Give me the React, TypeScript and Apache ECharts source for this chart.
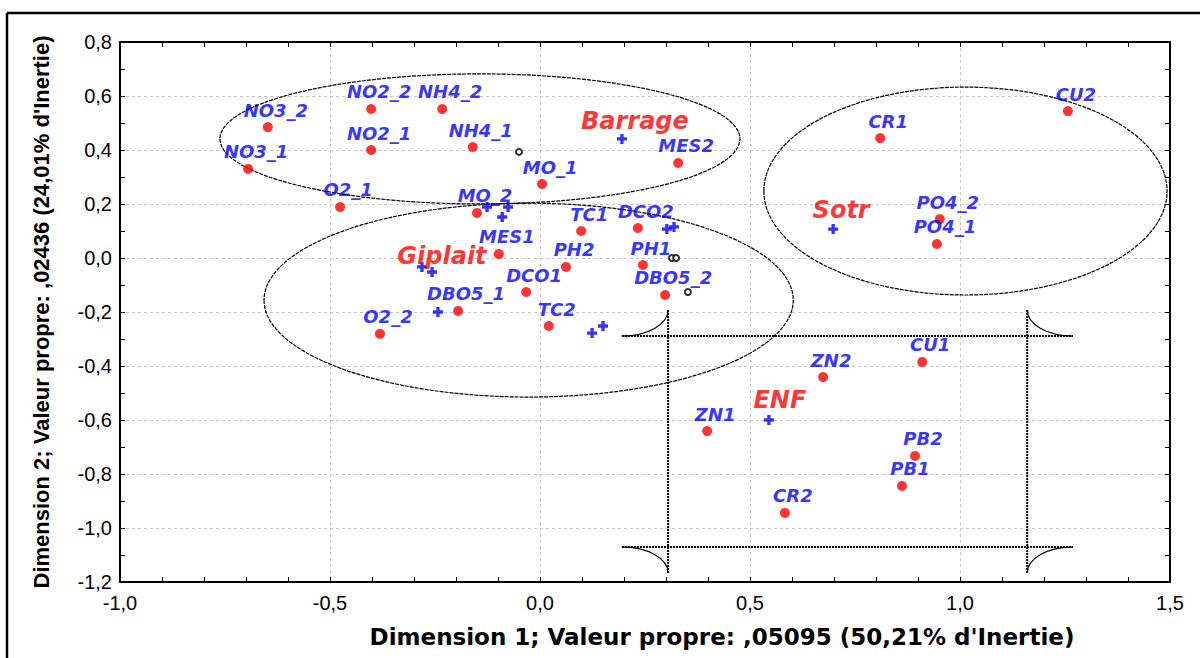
import React, { useEffect, useRef } from 'react';
import * as echarts from 'echarts';

// Variables (red points)
const variableNames = ['NO3_2', 'NO3_1', 'NO2_2', 'NO2_1', 'NH4_2', 'NH4_1', 'MO_1', 'O2_1', 'MO_2', 'MES1', 'TC1', 'DCO2', 'PH2', 'PH1', 'DCO1', 'DBO5_2', 'DBO5_1', 'TC2', 'O2_2', 'MES2', 'CR1', 'CU2', 'PO4_2', 'PO4_1', 'CU1', 'ZN2', 'ZN1', 'PB2', 'PB1', 'CR2'];
const variableX = [-0.648, -0.695, -0.402, -0.402, -0.233, -0.160, 0.005, -0.476, -0.150, -0.098, 0.098, 0.233, 0.062, 0.245, -0.033, 0.298, -0.195, 0.021, -0.381, 0.329, 0.810, 1.257, 0.952, 0.945, 0.910, 0.674, 0.398, 0.893, 0.862, 0.583];
const variableY = [0.485, 0.330, 0.552, 0.400, 0.552, 0.411, 0.274, 0.189, 0.167, 0.015, 0.100, 0.111, -0.033, -0.026, -0.126, -0.137, -0.196, -0.252, -0.281, 0.352, 0.444, 0.544, 0.144, 0.052, -0.385, -0.441, -0.641, -0.733, -0.844, -0.944];

// Named sites (blue crosses with red names)
const siteNames = ['Barrage', 'Sotr', 'ENF', 'Giplait'];
const siteX = [0.195, 0.698, 0.545, -0.281];
const siteY = [0.441, 0.107, -0.600, -0.033];
const siteLabelDx = [13, 8, 11, 20];
const siteLabelDy = [-18, -19, -20, -11];

// Unlabelled observations (blue crosses)
const obsX = [-0.257, -0.126, -0.076, -0.090, 0.302, 0.319, -0.243, 0.124, 0.150];
const obsY = [-0.052, 0.189, 0.189, 0.152, 0.107, 0.115, -0.200, -0.278, -0.252];

// Small open circles
const centreX = [-0.050, 0.314, 0.324, 0.352];
const centreY = [0.393, 0.000, 0.000, -0.126];

// Group ellipses (data units)
const ellipseCX = [-0.143, -0.027, 1.013];
const ellipseCY = [0.441, -0.156, 0.248];
const ellipseRX = [0.619, 0.630, 0.480];
const ellipseRY = [0.241, 0.359, 0.385];

// ENF bracket frame (data units): outer-left, inner-left, inner-right, outer-right
const bracketX = [0.195, 0.305, 1.160, 1.269];
// outer-top, inner-top, inner-bottom, outer-bottom
const bracketY = [-0.193, -0.289, -1.070, -1.167];

const X_TITLE = "Dimension 1; Valeur propre: ,05095 (50,21% d'Inertie)";
const Y_TITLE = "Dimension 2; Valeur propre: ,02436 (24,01% d'Inertie)";

const fmt = (v: number) => (Math.abs(v) < 1e-9 ? 0 : v).toFixed(1).replace('.', ',');

const CROSS = 'path://M4,0H8V4H12V8H8V12H4V8H0V4H4Z';

export default function App() {
  const ref = useRef<HTMLDivElement>(null);

  useEffect(() => {
    if (!ref.current) return;
    const chart = echarts.init(ref.current, null, { renderer: 'svg' });

    const axisCommon = {
      type: 'value' as const,
      axisLine: { onZero: false, lineStyle: { color: '#000', width: 2 } },
      axisTick: { inside: true, length: 5, lineStyle: { color: '#000', width: 1 } },
      minorTick: { show: true, length: 5, lineStyle: { color: '#000', width: 1 } },
    };

    const gridLine = { show: true, lineStyle: { color: '#c4c4c4', width: 1, type: [3, 3] as any } };

    const labelFont = { fontFamily: 'Liberation Sans, Arial, sans-serif', fontSize: 20, color: '#000' };

    const ellipseData = ellipseCX.map((c, i) => [c, ellipseCY[i], ellipseRX[i], ellipseRY[i]]);

    const option: any = {
      animation: false,
      backgroundColor: '#fff',
      grid: { left: 120, right: 30, top: 42, bottom: 76 },
      xAxis: [
        {
          ...axisCommon,
          position: 'bottom',
          min: -1,
          max: 1.5,
          interval: 0.5,
          minorTick: { ...axisCommon.minorTick, splitNumber: 5 },
          splitLine: gridLine,
          axisLabel: { ...labelFont, margin: 11, formatter: fmt },
          name: X_TITLE,
          nameLocation: 'middle',
          nameGap: 43,
          nameTextStyle: {
            fontFamily: 'DejaVu Sans, sans-serif',
            fontWeight: 'bold',
            fontSize: 23,
            color: '#000',
            padding: [0, 0, 0, 154],
          },
        },
        {
          ...axisCommon,
          position: 'top',
          min: -1,
          max: 1.5,
          interval: 0.5,
          minorTick: { ...axisCommon.minorTick, splitNumber: 5 },
          splitLine: { show: false },
          axisLabel: { show: false },
        },
      ],
      yAxis: [
        {
          ...axisCommon,
          position: 'left',
          min: -1.2,
          max: 0.8,
          interval: 0.2,
          minorTick: { ...axisCommon.minorTick, splitNumber: 2 },
          splitLine: gridLine,
          axisLabel: { ...labelFont, margin: 8, formatter: fmt },
          name: Y_TITLE,
          nameLocation: 'middle',
          nameGap: 68,
          nameTextStyle: {
            fontFamily: 'Liberation Sans, Arial, sans-serif',
            fontWeight: 'bold',
            fontSize: 22,
            color: '#000',
          },
        },
        {
          ...axisCommon,
          position: 'right',
          min: -1.2,
          max: 0.8,
          interval: 0.2,
          minorTick: { ...axisCommon.minorTick, splitNumber: 2 },
          splitLine: { show: false },
          axisLabel: { show: false },
        },
      ],
      graphic: [
        { type: 'line', shape: { x1: 7, y1: 13, x2: 1200, y2: 13 }, style: { stroke: '#000', lineWidth: 2.5 }, silent: true },
        { type: 'line', shape: { x1: 7, y1: 13, x2: 7, y2: 658 }, style: { stroke: '#000', lineWidth: 2.5 }, silent: true },
      ],
      series: [
        {
          type: 'custom',
          name: 'ellipses',
          xAxisIndex: 0,
          yAxisIndex: 0,
          silent: true,
          z: 1,
          data: ellipseData,
          encode: { x: 0, y: 1 },
          renderItem: (params: any, api: any) => {
            const c = api.coord([api.value(0), api.value(1)]);
            const s = api.size([api.value(2), api.value(3)]);
            const cx = c[0], cy = c[1], rx = s[0], ry = s[1];
            const d = `M${cx - rx},${cy} A${rx},${ry} 0 1,0 ${cx + rx},${cy} A${rx},${ry} 0 1,0 ${cx - rx},${cy} Z`;
            return {
              type: 'path',
              shape: { pathData: d },
              style: { fill: 'none', stroke: '#000', lineWidth: 1.2, lineDash: [4, 1] },
            };
          },
        },
        {
          type: 'custom',
          name: 'bracket',
          xAxisIndex: 0,
          yAxisIndex: 0,
          silent: true,
          z: 1,
          data: [[bracketX[1], bracketY[1]]],
          encode: { x: 0, y: 1 },
          renderItem: (params: any, api: any) => {
            const px = bracketX.map((x) => api.coord([x, 0])[0]);
            const py = bracketY.map((y) => api.coord([0, y])[1]);
            const [xOL, xIL, xIR, xOR] = px;
            const [yOT, yIT, yIB, yOB] = py;
            const lines =
              `M${xOL},${yIT} L${xOR},${yIT} M${xOL},${yIB} L${xOR},${yIB} ` +
              `M${xIL},${yOT} L${xIL},${yOB} M${xIR},${yOT} L${xIR},${yOB}`;
            const k = 0.5523;
            const quarter = (cx: number, cy: number, ax: number, ay: number, bx: number, by: number) => {
              const p1x = cx + k * (bx - cx);
              const p2y = cy + k * (ay - cy);
              return `M${ax},${ay} C${p1x},${ay} ${bx},${p2y} ${bx},${by}`;
            };
            const arcs =
              quarter(xOL, yOT, xOL, yIT, xIL, yOT) + ' ' +
              quarter(xOR, yOT, xOR, yIT, xIR, yOT) + ' ' +
              quarter(xOL, yOB, xOL, yIB, xIL, yOB) + ' ' +
              quarter(xOR, yOB, xOR, yIB, xIR, yOB);
            return {
              type: 'group',
              children: [
                {
                  type: 'path',
                  shape: { pathData: lines },
                  style: { fill: 'none', stroke: '#000', lineWidth: 2, lineDash: [2, 1] },
                },
                {
                  type: 'path',
                  shape: { pathData: arcs },
                  style: { fill: 'none', stroke: '#000', lineWidth: 1.2 },
                },
              ],
            };
          },
        },
        {
          type: 'scatter',
          name: 'centres',
          z: 3,
          symbol: 'emptyCircle',
          symbolSize: 6,
          itemStyle: { color: '#000', borderColor: '#000', borderWidth: 1.4 },
          data: centreX.map((x, i) => [x, centreY[i]]),
        },
        {
          type: 'scatter',
          name: 'observations',
          z: 4,
          symbol: CROSS,
          symbolSize: 10,
          itemStyle: { color: '#0000ff' },
          data: obsX.map((x, i) => [x, obsY[i]]),
        },
        {
          type: 'scatter',
          name: 'sites',
          z: 4,
          symbol: CROSS,
          symbolSize: 10,
          itemStyle: { color: '#0000ff' },
          data: siteX.map((x, i) => ({
            value: [x, siteY[i]],
            name: siteNames[i],
            label: { offset: [siteLabelDx[i], siteLabelDy[i]] },
          })),
          label: {
            show: true,
            position: 'inside',
            formatter: (p: any) => p.name,
            color: '#ff0000',
            fontFamily: 'DejaVu Sans, sans-serif',
            fontWeight: 'bold',
            fontStyle: 'italic',
            fontSize: 24,
          },
        },
        {
          type: 'scatter',
          name: 'variables',
          z: 5,
          symbol: 'circle',
          symbolSize: 10,
          itemStyle: { color: '#ff0000' },
          data: variableX.map((x, i) => ({
            value: [x, variableY[i]],
            name: variableNames[i],
            label: { offset: [8, -17] },
          })),
          label: {
            show: true,
            position: 'inside',
            formatter: (p: any) => p.name,
            color: '#0000ff',
            fontFamily: 'DejaVu Sans, sans-serif',
            fontWeight: 'bold',
            fontStyle: 'italic',
            fontSize: 18,
          },
        },
      ],
    };

    chart.setOption(option);
    return () => chart.dispose();
  }, []);

  return (
    <div
      ref={ref}
      style={{ position: 'absolute', left: 0, top: 0, width: 1200, height: 658, background: '#fff' }}
    />
  );
}
